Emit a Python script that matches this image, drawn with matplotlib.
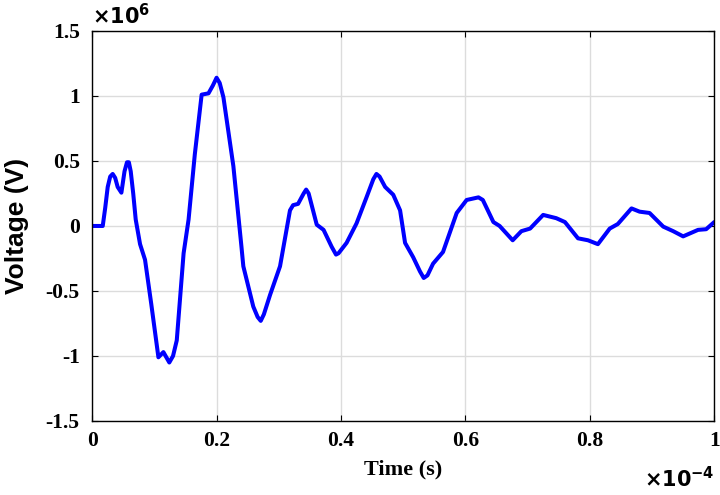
import matplotlib.pyplot as plt

# time in units of 1e-4 s, voltage in units of 1e6 V
time_e4 = [0.0, 0.017, 0.021, 0.025, 0.029, 0.033, 0.037, 0.041, 0.047, 0.052, 0.056,
           0.059, 0.062, 0.066, 0.070, 0.077, 0.085, 0.095, 0.1065, 0.1145, 0.124,
           0.130, 0.136, 0.147, 0.155, 0.165, 0.176, 0.187, 0.194, 0.200, 0.205,
           0.211, 0.227, 0.240, 0.243, 0.259, 0.266, 0.271, 0.276, 0.286, 0.302,
           0.318, 0.323, 0.331, 0.340, 0.344, 0.348, 0.361, 0.372, 0.385, 0.392,
           0.396, 0.409, 0.425, 0.441, 0.452, 0.457, 0.462, 0.471, 0.484, 0.495,
           0.503, 0.516, 0.527, 0.533, 0.539, 0.548, 0.564, 0.586, 0.602, 0.621,
           0.628, 0.645, 0.655, 0.676, 0.690, 0.704, 0.725, 0.746, 0.760, 0.781,
           0.797, 0.813, 0.832, 0.845, 0.867, 0.880, 0.896, 0.918, 0.934, 0.950,
           0.974, 0.987, 1.0]
voltage_e6 = [0.0, 0.0, 0.14, 0.30, 0.38, 0.40, 0.37, 0.30, 0.256, 0.42, 0.49,
              0.49, 0.42, 0.25, 0.05, -0.14, -0.26, -0.60, -1.01, -0.97, -1.05,
              -1.0, -0.88, -0.21, 0.05, 0.55, 1.01, 1.02, 1.08, 1.14, 1.10,
              0.99, 0.46, -0.16, -0.31, -0.62, -0.70, -0.73, -0.68, -0.53, -0.31,
              0.12, 0.16, 0.17, 0.25, 0.28, 0.25, 0.01, -0.03, -0.16, -0.22,
              -0.21, -0.13, 0.02, 0.22, 0.36, 0.40, 0.38, 0.30, 0.24, 0.12,
              -0.13, -0.24, -0.35, -0.40, -0.38, -0.29, -0.20, 0.10, 0.20, 0.22,
              0.20, 0.03, 0.0, -0.11, -0.04, -0.02, 0.085, 0.06, 0.03, -0.095,
              -0.11, -0.14, -0.02, 0.015, 0.135, 0.11, 0.10, -0.005, -0.04, -0.08,
              -0.03, -0.025, 0.03]

x_ticks = [0, 0.2, 0.4, 0.6, 0.8, 1.0]
x_tick_labels = ['0', '0.2', '0.4', '0.6', '0.8', '1']
y_ticks = [-1.5, -1, -0.5, 0, 0.5, 1, 1.5]
y_tick_labels = ['-1.5', '-1', '-0.5', '0', '0.5', '1', '1.5']

plt.rcParams['font.family'] = ['Liberation Serif', 'DejaVu Serif']
plt.rcParams['font.weight'] = 'bold'

fig = plt.figure(figsize=(7.2, 4.95), dpi=100)
ax = fig.add_axes([0.128, 0.1495, 0.864, 0.788])

ax.plot(time_e4, voltage_e6, color='#0000ff', linewidth=2.9,
        solid_joinstyle='round', solid_capstyle='round')

ax.set_xticks(x_ticks, x_tick_labels)
ax.set_yticks(y_ticks, y_tick_labels)
ax.set_xlim(0, 1)
ax.set_ylim(-1.5, 1.5)
ax.grid(True, color='#dcdcdc', linewidth=1)
ax.tick_params(direction='in', length=4, width=0.8, top=True, right=True,
               labelsize=15.5)
ax.tick_params(axis='x', pad=7)
ax.tick_params(axis='y', pad=9)
for lab in ax.get_xticklabels() + ax.get_yticklabels():
    lab.set_fontweight('bold')
for s in ax.spines.values():
    s.set_linewidth(1.0)

ax.set_xlabel('Time (s)', fontsize=16, fontweight='bold', labelpad=6)
ax.set_ylabel('Voltage (V)', fontsize=19, fontweight='bold', labelpad=12,
              family=['Liberation Sans', 'DejaVu Sans'])

ax.text(0.0, 1.005, r'$\times\mathbf{10^{6}}$', transform=ax.transAxes,
        fontsize=15, ha='left', va='bottom')
ax.text(1.0, -0.118, r'$\times\mathbf{10^{-4}}$', transform=ax.transAxes,
        fontsize=15, ha='right', va='top')

fig.savefig('out.png', dpi=100)
